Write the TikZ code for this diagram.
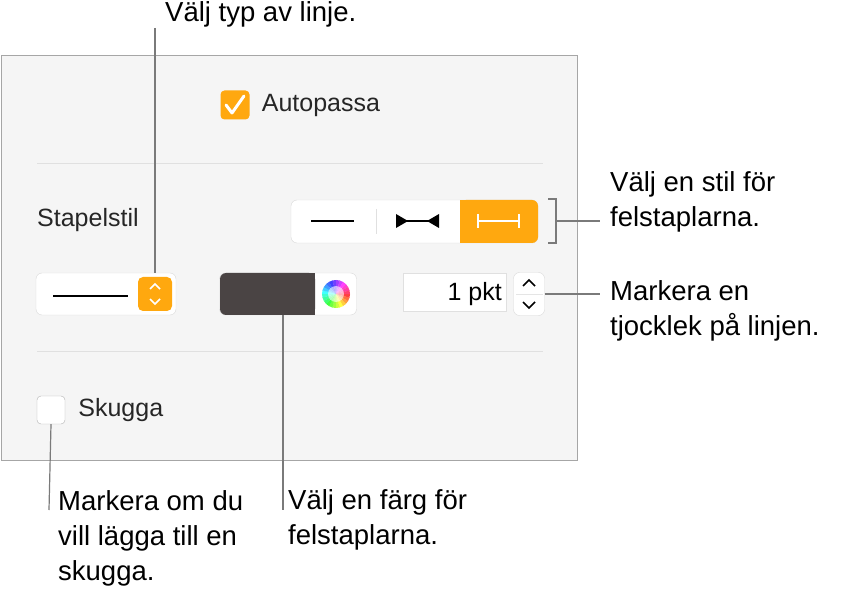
\documentclass[tikz,border=0pt]{standalone}
\usepackage{fontspec}
\setmainfont{Liberation Sans}
\usetikzlibrary{positioning}
\definecolor{panelbg}{HTML}{F5F5F5}
\definecolor{accent}{HTML}{FFA80F}
\definecolor{well}{HTML}{4A4444}
\definecolor{callout}{HTML}{7A7A7A}
\tikzset{
  note/.style={anchor=west, align=left, font=\fontsize{27.5}{35}\selectfont, inner sep=0pt},
  lbl/.style={anchor=west, font=\fontsize{25}{26}\selectfont, text=black!85, inner sep=0pt},
  ctrl/.style={draw=black!15, fill=white, rounded corners=6pt},
  lead/.style={draw=callout, line width=1.2pt}
}
\begin{document}
\begin{tikzpicture}[x=1pt,y=-1pt]
\useasboundingbox (0,0) rectangle (843,601);
% panel
\draw[fill=panelbg, draw=black!35] (1,55) rectangle (577,460);
\draw[black!12, line width=1pt] (37,164) -- (543,164);
\draw[black!12, line width=1pt] (37,352) -- (543,352);
% autopassa
\node[fill=accent, rounded corners=4pt, minimum size=29pt, inner sep=0pt] (chk) at (235,105) {};
\draw[white, line width=3pt, line cap=round, line join=round] (226,105) -- (232,113) -- (244,96);
\node[lbl, right=12pt of chk] (auto) {Autopassa};
% stapelstil
\node[lbl] (stil) at (37,220) {Stapelstil};
\draw[ctrl] (291,200) rectangle (538,243);
\fill[accent, rounded corners=6pt] (460,200) rectangle (538,243);
\fill[accent] (460,200) rectangle (470,243);
\draw[black!12] (376,209) -- (376,234);
\draw[line width=1.2pt] (311,221) -- (354,221);
\draw[line width=1.2pt] (398,221) -- (437,221);
\fill (396,214) -- (396,228) -- (408,221) -- cycle;
\fill (439,214) -- (439,228) -- (427,221) -- cycle;
\draw[white, line width=1.2pt] (478,214) -- (478,228) (478,221) -- (519,221) (519,214) -- (519,228);
\draw[callout, line width=1.5pt] (548,199) -- (556,199) -- (556,243) -- (548,243);
\coordinate (brk) at (556,221);
% line popup
\node[ctrl, minimum width=140pt, minimum height=42pt] (pop) at (106,294) {};
\draw[line width=2.5pt] (53,296) -- (128,296);
\node[fill=accent, rounded corners=5pt, minimum size=34pt, inner sep=0pt] (popstep) at (155,294) {};
\draw[white, line width=1.5pt] (150,289) -- (155,284) -- (160,289) (150,299) -- (155,304) -- (160,299);
% colour well
\node[ctrl, minimum width=137pt, minimum height=42pt] (wellbox) at (288,294) {};
\fill[well, rounded corners=6pt] (220,273) rectangle (315,315);
\fill[well] (305,273) rectangle (315,315);
\foreach \h in {0,15,...,345}{
  \pgfmathsetmacro\hh{\h/360}
  \definecolor{wedge}{hsb}{\hh,0.75,1}
  \fill[wedge] (336,294) -- ++(\h:14) arc[start angle=\h, end angle=\h+16, radius=14] -- cycle;
}
\shade[inner color=white, outer color=white, opacity=.6] (336,294) circle (8);
% thickness
\node[draw=black!12, fill=white, minimum width=103pt, minimum height=38pt, inner sep=0pt] (pkt) at (455,292) {};
\node[lbl, anchor=east, text=black] at (502,294) {1 pkt};
\node[ctrl, minimum width=31pt, minimum height=43pt] (pktstep) at (529,294) {};
\draw[black!10] (516,294) -- (543,294);
\draw[line width=1.5pt] (523,286) -- (529,280) -- (535,286) (523,302) -- (529,308) -- (535,302);
% skugga
\node[draw=black!30, fill=white, rounded corners=4pt, minimum size=28pt, inner sep=0pt] (skbox) at (51,410) {};
\node[lbl, right=13pt of skbox] (skugga) {Skugga};
% callouts
\node[note] (typ) at (165,14) {Välj typ av linje.};
\node[note] (stilnote) at (610,202) {Välj en stil för\\felstaplarna.};
\node[note] (tjock) at (610,311) {Markera en\\tjocklek på linjen.};
\node[note] (farg) at (288,520) {Välj en färg för\\felstaplarna.};
\node[note] (skugnote) at (58,538) {Markera om du\\vill lägga till en\\skugga.};
\coordinate (typtop) at (155,28);
\coordinate (fargbot) at (283,510);
\coordinate (skugbot) at (49,510);
\draw[lead] (typtop) -- (155,273);
\draw[lead] (brk) -- (600,221);
\draw[lead] (pktstep.east) -- (600,294);
\draw[lead] (283,315) -- (fargbot);
\draw[lead] (skbox.south) -- (skugbot);
\end{tikzpicture}
\end{document}
